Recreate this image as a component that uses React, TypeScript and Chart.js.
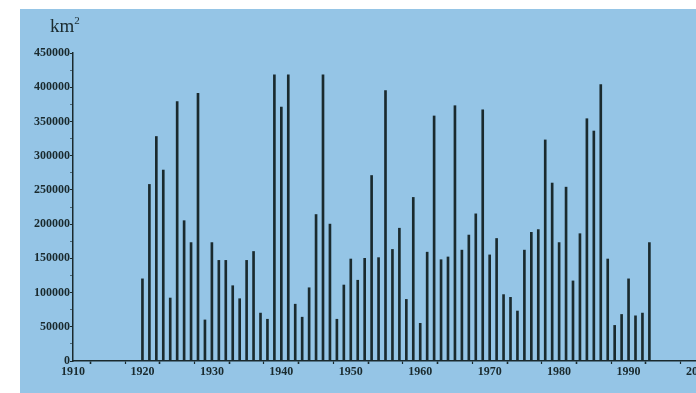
import React, { useEffect, useRef } from "react";
import { Chart, registerables } from "chart.js";

Chart.register(...registerables);

// Yearly area (km²), 1920–1993
const years = [
  1920, 1921, 1922, 1923, 1924, 1925, 1926, 1927, 1928, 1929,
  1930, 1931, 1932, 1933, 1934, 1935, 1936, 1937, 1938, 1939,
  1940, 1941, 1942, 1943, 1944, 1945, 1946, 1947, 1948, 1949,
  1950, 1951, 1952, 1953, 1954, 1955, 1956, 1957, 1958, 1959,
  1960, 1961, 1962, 1963, 1964, 1965, 1966, 1967, 1968, 1969,
  1970, 1971, 1972, 1973, 1974, 1975, 1976, 1977, 1978, 1979,
  1980, 1981, 1982, 1983, 1984, 1985, 1986, 1987, 1988, 1989,
  1990, 1991, 1992, 1993,
];

const areas = [
  120000, 258000, 328000, 279000, 92000, 379000, 205000, 173000, 391000, 60000,
  173000, 147000, 147000, 110000, 91000, 147000, 160000, 70000, 61000, 418000,
  371000, 418000, 83000, 64000, 107000, 214000, 418000, 200000, 61000, 111000,
  149000, 118000, 150000, 271000, 151000, 395000, 163000, 194000, 90000, 239000,
  55000, 159000, 358000, 148000, 152000, 373000, 162000, 184000, 215000, 367000,
  155000, 179000, 97000, 93000, 73000, 162000, 188000, 192000, 323000, 260000,
  173000, 254000, 117000, 186000, 354000, 336000, 404000, 149000, 52000, 68000,
  120000, 66000, 70000, 173000,
];

const xMin = 1910;
const xMax = 2000;
const yMax = 450000;

const INK = "#1a2a2e";
const PANEL = "#95c5e6";
const LABEL_FONT = { family: "'Liberation Serif', serif", size: 12, weight: "bold" as const };

export default function App() {
  const canvasRef = useRef<HTMLCanvasElement | null>(null);

  useEffect(() => {
    const canvas = canvasRef.current;
    if (!canvas) return;
    const chart = new Chart(canvas, {
      type: "bar",
      data: {
        datasets: [
          {
            data: years.map((year, i) => ({ x: year, y: areas[i] })),
            backgroundColor: INK,
            borderWidth: 0,
            barThickness: 2,
          },
        ],
      },
      options: {
        animation: false,
        responsive: false,
        maintainAspectRatio: false,
        layout: { padding: { left: 0, top: 44, right: 52, bottom: 0 } },
        plugins: {
          legend: { display: false },
          tooltip: { enabled: false },
        },
        scales: {
          x: {
            type: "linear",
            min: xMin,
            max: xMax,
            offset: false,
            afterFit: (scale: any) => {
              scale.height = 32;
            },
            ticks: {
              stepSize: 5,
              autoSkip: false,
              maxRotation: 0,
              padding: 1,
              color: INK,
              font: LABEL_FONT,
              callback: (v: any) => (Number(v) % 10 === 0 ? String(v) : ""),
            },
            grid: {
              drawOnChartArea: false,
              drawTicks: true,
              tickLength: 3,
              tickColor: INK,
              tickWidth: (ctx: any) => (ctx.tick && ctx.tick.value % 10 === 0 ? 1.2 : 1.6),
            },
            border: { display: true, color: INK, width: 1.5 },
          },
          y: {
            min: 0,
            max: yMax,
            afterFit: (scale: any) => {
              scale.width = 53;
            },
            ticks: {
              stepSize: 25000,
              autoSkip: false,
              padding: 0,
              color: INK,
              font: LABEL_FONT,
              callback: (v: any) => (Number(v) % 50000 === 0 ? String(v) : ""),
            },
            grid: {
              drawOnChartArea: false,
              drawTicks: true,
              tickLength: 3,
              tickColor: (ctx: any) =>
                ctx.tick && ctx.tick.value % 50000 === 0 ? INK : "rgba(26,42,46,0.6)",
              tickWidth: 1,
            },
            border: { display: true, color: INK, width: 1.5 },
          },
        },
      },
    });
    return () => chart.destroy();
  }, []);

  return (
    <div
      style={{
        position: "fixed",
        left: 0,
        top: 0,
        width: 696,
        height: 393,
        background: "#ffffff",
        overflow: "hidden",
      }}
    >
      <div
        style={{
          position: "absolute",
          left: 20,
          top: 9,
          width: 676,
          height: 384,
          background: PANEL,
          overflow: "hidden",
        }}
      >
        <canvas
          ref={canvasRef}
          width={730}
          height={384}
          style={{ position: "absolute", left: 0, top: 0, width: 730, height: 384 }}
        />
        <div
          style={{
            position: "absolute",
            left: 30,
            top: 7,
            fontFamily: "'Liberation Serif', serif",
            fontSize: 19,
            lineHeight: "19px",
            color: INK,
          }}
        >
          km<sup style={{ fontSize: 11, verticalAlign: "8px", lineHeight: 0 }}>2</sup>
        </div>
      </div>
    </div>
  );
}
